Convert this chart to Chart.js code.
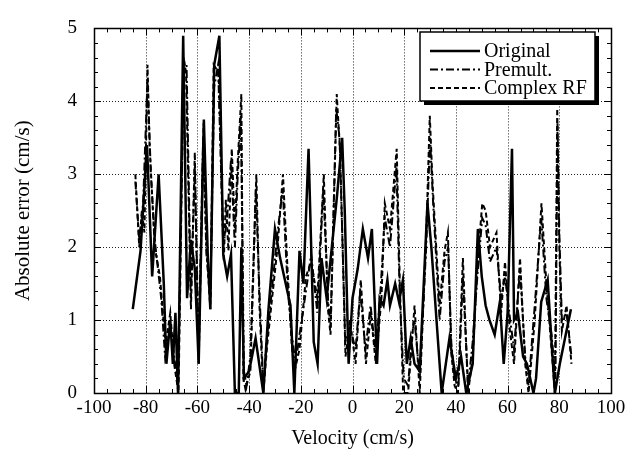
<!DOCTYPE html>
<html>
<head>
<meta charset="utf-8">
<script src="https://cdn.jsdelivr.net/npm/chart.js@4.4.1/dist/chart.umd.min.js"></script>
<style>
  html, body { margin: 0; padding: 0; background: #fff; }
  #wrap { width: 639px; height: 453px; position: relative; }
</style>
</head>
<body>
<div id="wrap"><canvas id="err-chart" width="639" height="453"></canvas></div>
<script>
// Absolute error vs velocity, three estimators
const origVel = [-85, -82, -79.5, -77.5, -75, -73, -72, -70.5, -69.5, -68.5, -67.5, -65.5, -64, -62.5, -61, -59.5, -57.5, -56, -55, -53.5, -51.5, -50, -48.5, -47, -45.5, -44, -43, -42, -40, -37.5, -34.5, -32.5, -30, -28, -24, -22.5, -20.5, -19, -17, -15, -13.5, -12, -10, -8, -6, -4, -3, -1.5, 0, 2, 4, 6, 7.5, 9.5, 10.5, 12, 13.5, 14.5, 16.5, 18, 19.5, 21, 22.5, 24, 26, 29, 30.5, 34.5, 37.5, 40, 42, 44, 46.5, 48.5, 50, 51.5, 53, 55, 57, 58.5, 60, 61.7, 62.5, 64, 66, 67.5, 70, 71, 73, 75.5, 77, 78.3, 80.2, 82.2, 84.5];
const origErr = [1.15, 1.95, 3.4, 1.6, 3.0, 1.5, 0.4, 1.0, 0.4, 1.1, 0, 4.9, 1.3, 2.1, 1.7, 0.4, 3.75, 1.9, 1.15, 4.5, 4.9, 1.9, 1.6, 1.9, 0, 0, 2.0, 0.2, 0.3, 0.75, 0, 1.15, 2.25, 1.85, 1.2, 0, 1.95, 1.5, 3.35, 0.7, 0.4, 1.85, 1.3, 2.0, 2.7, 3.5, 2.5, 0.4, 1.3, 1.7, 2.25, 1.85, 2.25, 0.4, 1.3, 1.2, 1.55, 1.2, 1.5, 1.25, 1.55, 0.4, 0.75, 0.4, 0.3, 2.6, 2.0, 0, 0.75, 0.2, 0.5, 0, 0.4, 2.25, 1.6, 1.2, 1.0, 0.8, 1.25, 0.4, 1.1, 3.35, 1.0, 1.1, 0.5, 0.4, 0, 0.2, 1.25, 1.55, 0.7, 0, 0.4, 0.75, 1.15];

const premVel = [-84, -82.5, -81, -79.3, -78, -76.5, -74, -72.5, -70.5, -69, -67.5, -65.3, -64.2, -62.5, -61, -59.5, -57.8, -56.5, -55, -53.5, -52, -50, -48.5, -47, -45.5, -44.5, -43.2, -42, -41, -39.5, -37.4, -36, -34.5, -33, -31.5, -29, -27, -25, -23.5, -22, -20.5, -18, -16, -13.6, -11.3, -9.5, -8.5, -6.3, -5, -2.8, -1, 1.2, 3, 5, 7, 9, 11, 12.5, 14.5, 17, 18.3, 19.8, 21.5, 23, 24, 26, 28.5, 30, 31.2, 33.7, 35.6, 37, 38.2, 39.5, 41, 42.7, 44.7, 46.5, 48.5, 50.2, 51.5, 53.2, 55.7, 57.5, 59, 61, 62.5, 64.8, 66.8, 68.1, 70.5, 73, 75, 77, 78.5, 79.3, 80, 81, 82.8, 84.7];
const premErr = [2.9, 2.1, 2.6, 4.3, 3.0, 2.1, 1.3, 0.5, 0.9, 0.5, 0.1, 4.4, 4.5, 1.3, 3.1, 0.6, 3.5, 1.9, 1.3, 4.2, 4.5, 2.0, 2.4, 3.2, 2.0, 2.9, 3.8, 0.3, 0.1, 0.5, 2.8, 1.4, 0.1, 0.8, 1.3, 2.2, 2.8, 1.4, 0.8, 0.4, 0.8, 1.4, 1.9, 1.1, 2.8, 1.3, 0.9, 3.9, 3.5, 0.7, 0.9, 0.6, 1.4, 0.6, 1.2, 0.5, 1.5, 2.4, 2.0, 3.1, 1.3, 0.2, 0.1, 0.8, 1.0, 0.2, 2.0, 3.5, 2.6, 1.0, 1.8, 2.0, 0.7, 0.2, 0.1, 1.6, 0.1, 0.7, 1.7, 2.4, 2.3, 1.8, 2.0, 1.3, 1.6, 1.0, 0.6, 1.7, 0.5, 0.1, 1.2, 2.4, 1.3, 0.8, 0.2, 3.7, 2.2, 1.0, 1.1, 0.5];

const cplxVel = [-84, -82.5, -81.5, -80.5, -79.3, -78.5, -76.5, -74.5, -72.3, -70.5, -69, -67.3, -65.3, -64.4, -62.5, -61, -60.5, -59.5, -57.6, -56.5, -55, -53.7, -51.8, -49.8, -49, -48, -46.7, -45.5, -44.5, -43, -42.2, -41.4, -39.5, -37.2, -36, -34.5, -33, -31.7, -29, -26.9, -25, -23.5, -22.4, -20.5, -18, -16, -13.6, -11.1, -9.5, -8.5, -6.1, -4.8, -2.7, -1, 1.2, 3.2, 5.2, 7.1, 9, 11.2, 12.5, 14.5, 17.1, 18.3, 19.6, 21.5, 22.8, 24, 26, 28.6, 29.9, 31, 33.7, 35.6, 36.9, 38.2, 39.5, 40.8, 42.7, 44.7, 46.5, 48.5, 50.2, 51.5, 53.2, 55.7, 57.5, 59, 60.9, 62.5, 64.8, 66.8, 68.1, 70.5, 73.1, 75, 77, 78.3, 79.2, 80, 81, 82.8, 84.7];
const cplxErr = [3.0, 2.0, 2.5, 2.2, 4.5, 3.4, 2.0, 1.6, 0.66, 1.1, 0.4, 0, 4.6, 4.4, 1.15, 3.3, 2.2, 0.4, 3.7, 2.0, 1.15, 4.5, 4.4, 1.8, 2.65, 1.95, 3.35, 2.25, 3.1, 4.1, 0.2, 0.05, 0.3, 3.0, 1.2, 0, 0.66, 1.1, 2.0, 3.0, 1.6, 0.66, 0.3, 0.6, 1.6, 1.8, 1.3, 3.0, 1.15, 0.8, 4.1, 3.3, 0.5, 1.0, 0.4, 1.55, 0.4, 1.1, 0.4, 1.3, 2.6, 2.25, 3.35, 1.5, 0, 0, 0.6, 1.2, 0, 2.25, 3.8, 2.85, 1.2, 1.95, 2.2, 0.55, 0.1, 0, 1.85, 0, 0.5, 1.85, 2.6, 2.5, 2.0, 2.2, 1.1, 1.8, 0.85, 0.4, 1.85, 0.4, 0, 1.0, 2.6, 1.5, 0.6, 0, 3.9, 2.0, 0.85, 1.2, 0.4];

const xTicks = [-100, -80, -60, -40, -20, 0, 20, 40, 60, 80, 100];
const yTicks = [0, 1, 2, 3, 4, 5];

const FONT = "'Liberation Serif', 'DejaVu Serif', serif";

function toPoints(xs, ys) {
  return xs.map((x, i) => ({ x, y: ys[i] }));
}

// dotted grid, frame and inward ticks, drawn from the scales
const framePlugin = {
  id: 'frame',
  beforeDatasetsDraw(chart) {
    const { ctx, chartArea: a, scales } = chart;
    const xs = scales.x;
    const ys = scales.y;
    ctx.save();
    ctx.strokeStyle = '#222';
    ctx.lineWidth = 1;
    ctx.setLineDash([1, 2]);
    xTicks.slice(1, -1).forEach((v) => {
      const px = Math.round(xs.getPixelForValue(v)) + 0.5;
      ctx.beginPath(); ctx.moveTo(px, a.top); ctx.lineTo(px, a.bottom); ctx.stroke();
    });
    yTicks.slice(1, -1).forEach((v) => {
      const py = Math.round(ys.getPixelForValue(v)) + 0.5;
      ctx.beginPath(); ctx.moveTo(a.left, py); ctx.lineTo(a.right, py); ctx.stroke();
    });
    ctx.setLineDash([]);
    ctx.strokeStyle = '#000';
    ctx.lineWidth = 1;
    for (let v = -100; v <= 100; v += 5) {
      const px = Math.round(xs.getPixelForValue(v)) + 0.5;
      const len = v % 20 === 0 ? 7 : 4;
      ctx.beginPath();
      ctx.moveTo(px, a.bottom); ctx.lineTo(px, a.bottom - len);
      ctx.moveTo(px, a.top); ctx.lineTo(px, a.top + len);
      ctx.stroke();
    }
    for (let i = 0; i <= 25; i++) {
      const v = i * 0.2;
      const py = Math.round(ys.getPixelForValue(v)) + 0.5;
      const len = i % 5 === 0 ? 7 : 4;
      ctx.beginPath();
      ctx.moveTo(a.left, py); ctx.lineTo(a.left + len, py);
      ctx.moveTo(a.right, py); ctx.lineTo(a.right - len, py);
      ctx.stroke();
    }
    ctx.lineWidth = 1.5;
    ctx.strokeRect(Math.round(a.left) + 0.5, Math.round(a.top) + 0.5, Math.round(a.right - a.left), Math.round(a.bottom - a.top));
    ctx.restore();
  },
  afterDatasetsDraw(chart) {
    const { ctx } = chart;
    const box = { x: 420, y: 32, w: 175, h: 69 };
    ctx.save();
    ctx.fillStyle = '#000';
    ctx.fillRect(box.x + 4, box.y + 4, box.w, box.h);
    ctx.fillStyle = '#fff';
    ctx.fillRect(box.x, box.y, box.w, box.h);
    ctx.strokeStyle = '#000';
    ctx.lineWidth = 1.5;
    ctx.strokeRect(box.x, box.y, box.w, box.h);
    ctx.font = `20px ${FONT}`;
    ctx.textBaseline = 'middle';
    ctx.fillStyle = '#000';
    chart.data.datasets.forEach((ds, i) => {
      const cy = box.y + 19 + i * 18.5;
      ctx.strokeStyle = '#000';
      ctx.lineWidth = ds.borderWidth;
      ctx.setLineDash(ds.borderDash || []);
      ctx.beginPath(); ctx.moveTo(box.x + 10, cy); ctx.lineTo(box.x + 60, cy); ctx.stroke();
      ctx.setLineDash([]);
      ctx.fillText(ds.label, box.x + 64, cy + 1);
    });
    ctx.restore();
  }
};

new Chart(document.getElementById('err-chart'), {
  type: 'line',
  data: {
    datasets: [
      {
        label: 'Original',
        data: toPoints(origVel, origErr),
        borderColor: '#000',
        borderWidth: 2.5,
        pointRadius: 0
      },
      {
        label: 'Premult.',
        data: toPoints(premVel, premErr),
        borderColor: '#000',
        borderWidth: 2,
        borderDash: [8, 3, 2, 3],
        pointRadius: 0
      },
      {
        label: 'Complex RF',
        data: toPoints(cplxVel, cplxErr),
        borderColor: '#000',
        borderWidth: 2,
        borderDash: [5, 3],
        pointRadius: 0
      }
    ]
  },
  options: {
    responsive: false,
    animation: false,
    layout: { padding: { top: 17, right: 28, left: 0, bottom: 0 } },
    plugins: {
      legend: { display: false },
      tooltip: { enabled: false }
    },
    scales: {
      x: {
        type: 'linear',
        min: -100,
        max: 100,
        afterBuildTicks: (s) => { s.ticks = xTicks.map((v) => ({ value: v })); },
        afterFit: (s) => { s.height = 60; },
        grid: { display: false, drawTicks: false },
        border: { display: false },
        ticks: { color: '#000', padding: 4, font: { family: FONT, size: 19 }, maxRotation: 0 },
        title: { display: true, text: 'Velocity (cm/s)', color: '#000', padding: { top: 0, bottom: 2 }, font: { family: FONT, size: 20 } }
      },
      y: {
        min: 0,
        max: 5,
        afterBuildTicks: (s) => { s.ticks = yTicks.map((v) => ({ value: v })); },
        afterFit: (s) => { s.width = 94; },
        grid: { display: false, drawTicks: false },
        border: { display: false },
        ticks: { color: '#000', padding: 17, font: { family: FONT, size: 19 } },
        title: { display: true, text: 'Absolute error (cm/s)', color: '#000', padding: { top: 11, bottom: 0 }, font: { family: FONT, size: 21 } }
      }
    }
  },
  plugins: [framePlugin]
});
</script>
</body>
</html>
